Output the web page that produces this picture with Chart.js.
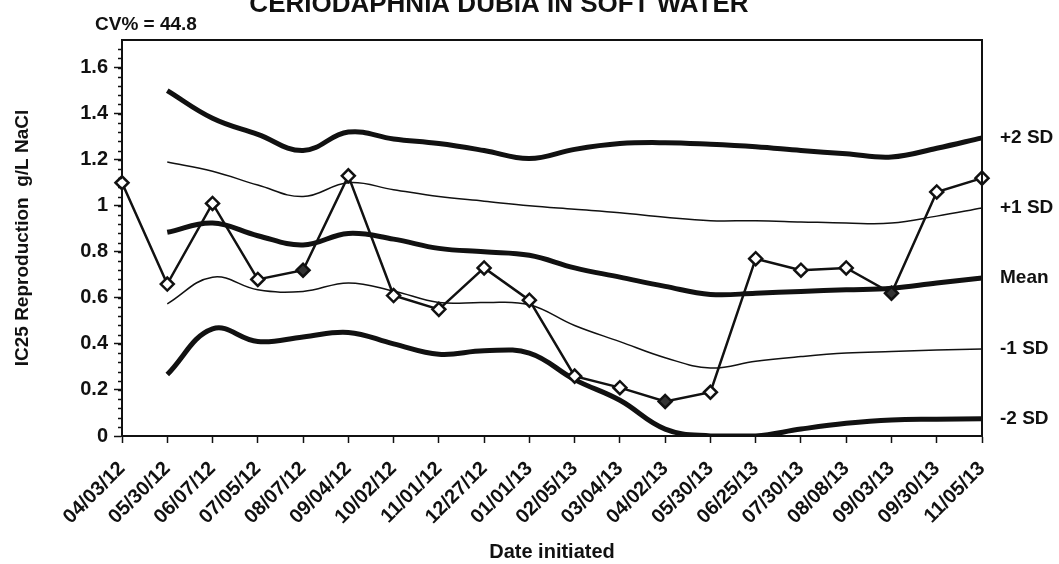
<!DOCTYPE html>
<html>
<head>
<meta charset="utf-8">
<script src="https://cdn.jsdelivr.net/npm/chart.js@4"></script>
<style>
  html, body { margin: 0; padding: 0; background: #fff; }
  #wrap { width: 1059px; height: 564px; position: relative; }
</style>
</head>
<body>
<div id="wrap"><canvas id="controlChart"></canvas></div>
<script>
const categories = ['04/03/12', '05/30/12', '06/07/12', '07/05/12', '08/07/12', '09/04/12', '10/02/12',
    '11/01/12', '12/27/12', '01/01/13', '02/05/13', '03/04/13', '04/02/13', '05/30/13', '06/25/13',
    '07/30/13', '08/08/13', '09/03/13', '09/30/13', '11/05/13'];

const ic25 = [1.10, 0.66, 1.01, 0.68, 0.72, 1.13, 0.61, 0.55, 0.73, 0.59,
    0.26, 0.21, 0.15, 0.19, 0.77, 0.72, 0.73, 0.62, 1.06, 1.12];

const plus2sd = [null, 1.50, 1.38, 1.31, 1.24, 1.32, 1.29, 1.27, 1.24, 1.205,
    1.245, 1.27, 1.274, 1.267, 1.256, 1.24, 1.226, 1.212, 1.25, 1.295];
const plus1sd = [null, 1.19, 1.15, 1.09, 1.04, 1.10, 1.07, 1.04, 1.02, 1.00,
    0.985, 0.97, 0.95, 0.935, 0.935, 0.93, 0.925, 0.925, 0.955, 0.99];
const meanLine = [null, 0.885, 0.925, 0.87, 0.83, 0.88, 0.855, 0.815, 0.80, 0.785,
    0.73, 0.69, 0.65, 0.615, 0.62, 0.628, 0.635, 0.642, 0.665, 0.686];
const minus1sd = [null, 0.574, 0.69, 0.635, 0.628, 0.665, 0.63, 0.58, 0.58, 0.57,
    0.48, 0.41, 0.34, 0.295, 0.325, 0.345, 0.36, 0.367, 0.373, 0.378];
const minus2sd = [null, 0.267, 0.465, 0.41, 0.43, 0.45, 0.40, 0.355, 0.37, 0.36,
    0.245, 0.155, 0.03, 0.0, 0.0, 0.03, 0.055, 0.07, 0.073, 0.075];

const yTickValues = [0, 0.2, 0.4, 0.6, 0.8, 1, 1.2, 1.4, 1.6];
const yTickLabels = ['0', '0.2', '0.4', '0.6', '0.8', '1', '1.2', '1.4', '1.6'];
const bandLabels = ['+2 SD', '+1 SD', 'Mean', '-1 SD', '-2 SD'];

const FONT = '"Liberation Sans", Arial, sans-serif';
const INK = '#111';

// scan artefact: a few markers look filled
const darkMarkers = [4, 12, 17];

function band(label, data, width) {
    return {
        label: label,
        data: data,
        borderColor: INK,
        borderWidth: width,
        pointRadius: 0,
        tension: 0.4,
        fill: false
    };
}

const annotations = {
    id: 'annotations',
    afterDraw(chart) {
        const ctx = chart.ctx;
        const area = chart.chartArea;
        const y = chart.scales.y;
        ctx.save();

        // frame on top and right
        ctx.strokeStyle = INK;
        ctx.lineWidth = 2;
        ctx.beginPath();
        ctx.moveTo(area.left, area.top);
        ctx.lineTo(area.right, area.top);
        ctx.lineTo(area.right, area.bottom);
        ctx.stroke();

        // minor ticks on the value axis
        ctx.lineWidth = 1.5;
        for (let v = 0.04; v < y.max; v += 0.04) {
            const py = Math.round(y.getPixelForValue(v)) + 0.5;
            ctx.beginPath();
            ctx.moveTo(area.left - 4, py);
            ctx.lineTo(area.left, py);
            ctx.stroke();
        }

        ctx.fillStyle = INK;
        // title, cut off at the top of the scan
        ctx.font = 'bold 26px ' + FONT;
        ctx.textAlign = 'center';
        ctx.textBaseline = 'alphabetic';
        ctx.fillText('CERIODAPHNIA DUBIA IN SOFT WATER', 499, 12);

        ctx.font = 'bold 19px ' + FONT;
        ctx.textAlign = 'left';
        ctx.fillText('CV% = 44.8', 95, 30);

        // band labels at the end of each line
        ctx.font = 'bold 19px ' + FONT;
        ctx.textBaseline = 'middle';
        const bands = [plus2sd, plus1sd, meanLine, minus1sd, minus2sd];
        bands.forEach(function(arr, i) {
            const last = arr[arr.length - 1];
            ctx.fillText(bandLabels[i], area.right + 18, y.getPixelForValue(last));
        });
        ctx.restore();
    }
};

const ctx = document.getElementById('controlChart').getContext('2d');
new Chart(ctx, {
    type: 'line',
    data: {
        labels: categories,
        datasets: [
            {
                label: 'IC25',
                data: ic25,
                borderColor: INK,
                borderWidth: 2.5,
                tension: 0,
                pointStyle: 'rectRot',
                pointRadius: 6.5,
                pointBorderWidth: 2.5,
                pointBorderColor: INK,
                pointBackgroundColor: function(c) {
                    return darkMarkers.indexOf(c.dataIndex) >= 0 ? '#333' : '#fff';
                },
                fill: false
            },
            band('+2 SD', plus2sd, 5),
            band('+1 SD', plus1sd, 1.5),
            band('Mean', meanLine, 5),
            band('-1 SD', minus1sd, 1.5),
            band('-2 SD', minus2sd, 5)
        ]
    },
    options: {
        responsive: true,
        maintainAspectRatio: false,
        animation: false,
        layout: { padding: { top: 40, right: 77, bottom: 0, left: 0 } },
        plugins: {
            legend: { display: false },
            tooltip: { enabled: false }
        },
        scales: {
            x: {
                offset: false,
                grid: {
                    drawOnChartArea: false,
                    drawTicks: true,
                    tickLength: 7,
                    tickColor: INK,
                    tickWidth: 1.5
                },
                border: { display: true, color: INK, width: 2 },
                ticks: {
                    color: INK,
                    autoSkip: false,
                    minRotation: 45,
                    maxRotation: 45,
                    padding: 14,
                    font: { family: FONT, size: 20, weight: 'bold' }
                },
                title: {
                    display: true,
                    text: 'Date initiated',
                    color: INK,
                    padding: { top: 0, bottom: 0 },
                    font: { family: FONT, size: 20, weight: 'bold' }
                },
                afterFit: function(scale) { scale.height = 128; }
            },
            y: {
                min: 0,
                max: 1.72,
                grid: {
                    drawOnChartArea: false,
                    drawTicks: true,
                    tickLength: 8,
                    tickColor: INK,
                    tickWidth: 1.5
                },
                border: { display: true, color: INK, width: 2 },
                afterBuildTicks: function(scale) {
                    scale.ticks = yTickValues.map(function(v) { return { value: v }; });
                },
                ticks: {
                    color: INK,
                    padding: 6,
                    font: { family: FONT, size: 20, weight: 'bold' },
                    callback: function(value, index) { return yTickLabels[index]; }
                },
                title: {
                    display: true,
                    text: 'IC25 Reproduction  g/L NaCl',
                    color: INK,
                    padding: { top: 11, bottom: 0 },
                    font: { family: FONT, size: 19, weight: 'bold' }
                },
                afterFit: function(scale) { scale.width = 122; }
            }
        }
    },
    plugins: [annotations]
});
</script>
</body>
</html>
